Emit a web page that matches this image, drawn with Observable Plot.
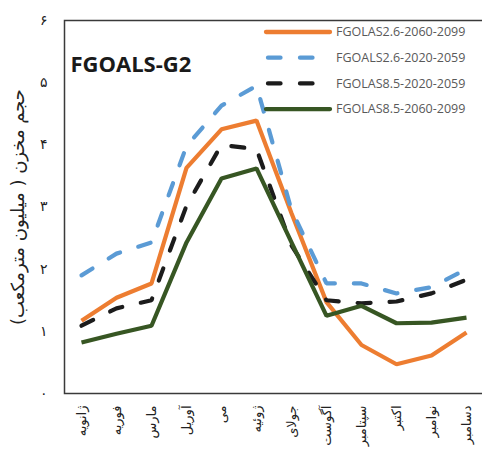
<!DOCTYPE html>
<html>
<head>
<meta charset="utf-8">
<script src="https://cdn.jsdelivr.net/npm/d3@7"></script>
<script src="https://cdn.jsdelivr.net/npm/@observablehq/plot@0.6"></script>
<style>
  body { margin: 0; background: #fff; }
  #wrap { position: relative; width: 482px; height: 454px; overflow: hidden; }
  #legend { position: absolute; left: 0; top: 0; pointer-events: none; }
</style>
</head>
<body>
<div id="wrap"></div>
<script>
// Months (Persian names), left to right
const months = ["ژانویه", "فوریه", "مارس", "آوریل", "می", "ژوئیه", "جولای", "آگوست", "سپتامبر", "اکتبر", "نوامبر", "دسامبر"];

// Monthly reservoir volume (million m³) per scenario/period
const fgolas26_2060_2099 = [1.17, 1.54, 1.77, 3.63, 4.25, 4.39, 2.90, 1.47, 0.78, 0.47, 0.61, 0.98];
const fgoals26_2020_2059 = [1.90, 2.25, 2.43, 3.98, 4.63, 4.95, 2.95, 1.77, 1.77, 1.61, 1.71, 2.00];
const fgolas85_2020_2059 = [1.09, 1.37, 1.50, 3.02, 4.00, 3.93, 2.38, 1.50, 1.45, 1.48, 1.61, 1.83];
const fgolas85_2060_2099 = [0.82, 0.96, 1.09, 2.43, 3.46, 3.62, 2.43, 1.25, 1.41, 1.13, 1.14, 1.22];

// Y tick values and their Persian-digit labels
const yTicks = [0, 1, 2, 3, 4, 5, 6];
const yTickLabels = ["۰", "۱", "۲", "۳", "۴", "۵", "۶"];

const chartTitle = "FGOALS-G2";
const yLabel = "حجم مخزن ( میلیون مترمکعب)";

const series = [
  {name: "FGOLAS2.6-2060-2099", values: fgolas26_2060_2099, color: "#ED7D31", dash: null},
  {name: "FGOALS2.6-2020-2059", values: fgoals26_2020_2059, color: "#5B9BD5", dash: "13,19"},
  {name: "FGOLAS8.5-2020-2059", values: fgolas85_2020_2059, color: "#1c1c1c", dash: "13,19"},
  {name: "FGOLAS8.5-2060-2099", values: fgolas85_2060_2099, color: "#375623", dash: null}
];

const rows = series.flatMap(s => s.values.map((v, i) => ({series: s.name, month: months[i], value: v})));

const persianFont = "'DejaVu Sans', sans-serif";

const lineMarks = series.map(s => Plot.line(rows.filter(r => r.series === s.name), {
  x: "month",
  y: "value",
  stroke: s.color,
  strokeWidth: 4.2,
  strokeDasharray: s.dash ?? undefined,
  strokeLinecap: s.dash ? "round" : "butt",
  strokeLinejoin: "miter"
}));

const plot = Plot.plot({
  width: 482,
  height: 454,
  marginTop: 20,
  marginBottom: 61,
  marginLeft: 64,
  marginRight: 0,
  style: {background: "#fff"},
  x: {type: "point", domain: months, padding: 0.45},
  y: {domain: [0, 6]},
  marks: [
    Plot.axisY({
      ticks: yTicks,
      tickSize: 0,
      tickPadding: 17,
      tickFormat: d => yTickLabels[yTicks.indexOf(d)],
      fontSize: 14,
      fontFamily: persianFont,
      fill: "#222",
      label: null
    }),
    Plot.axisX({
      tickSize: 0,
      tickPadding: 12,
      tickRotate: -90,
      fontSize: 13,
      fontFamily: persianFont,
      fill: "#222",
      label: null
    }),
    Plot.text([yLabel], {
      frameAnchor: "left",
      dx: -46,
      rotate: -90,
      fontSize: 18,
      fontFamily: persianFont,
      fill: "#222",
      className: "ylabel"
    }),
    ...lineMarks,
    Plot.frame({stroke: "#3a3a3a", strokeWidth: 1.5, insetRight: -10}),
    Plot.text([chartTitle], {
      frameAnchor: "top-left",
      dx: 6,
      dy: 51,
      lineAnchor: "bottom",
      textAnchor: "start",
      fontSize: 22,
      fontWeight: "bold",
      fontFamily: "'Open Sans', sans-serif",
      fill: "#1a1a1a"
    })
  ]
});

// The axis title is right-to-left text: lay it out in RTL, centred on its anchor
d3.select(plot).selectAll(".ylabel text")
  .attr("direction", "rtl")
  .attr("text-anchor", "middle");

const wrap = document.getElementById("wrap");
wrap.appendChild(plot);

// Legend overlay in the upper right of the plot area
const ns = "http://www.w3.org/2000/svg";
const leg = document.createElementNS(ns, "svg");
leg.setAttribute("id", "legend");
leg.setAttribute("width", 482);
leg.setAttribute("height", 130);
series.forEach((s, i) => {
  const cy = 32 + i * 25.7;
  const ln = document.createElementNS(ns, "line");
  ln.setAttribute("x1", s.dash ? 268 : 266);
  ln.setAttribute("x2", s.dash ? 328 : 330);
  ln.setAttribute("y1", cy);
  ln.setAttribute("y2", cy);
  ln.setAttribute("stroke", s.color);
  ln.setAttribute("stroke-width", 4.3);
  ln.setAttribute("stroke-linecap", "round");
  if (s.dash) ln.setAttribute("stroke-dasharray", "12.5,19.5");
  leg.appendChild(ln);
  const tx = document.createElementNS(ns, "text");
  tx.setAttribute("x", 336);
  tx.setAttribute("y", cy);
  tx.setAttribute("dy", "0.35em");
  tx.setAttribute("font-family", "'Open Sans', sans-serif");
  tx.setAttribute("font-size", 12.5);
  tx.setAttribute("fill", "#595959");
  tx.textContent = s.name;
  leg.appendChild(tx);
});
wrap.appendChild(leg);
</script>
</body>
</html>
